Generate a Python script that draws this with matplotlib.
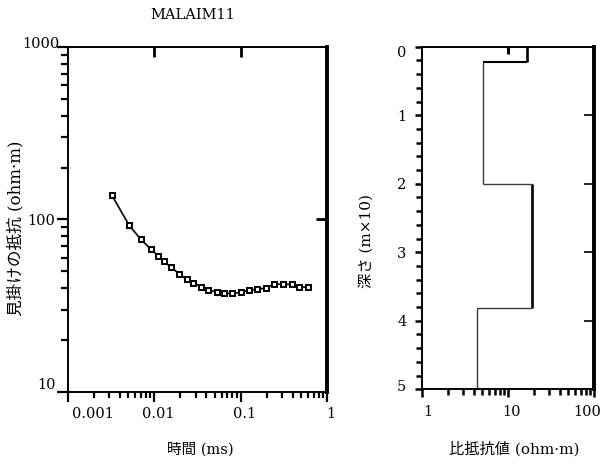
import matplotlib
matplotlib.use("Agg")
import matplotlib.pyplot as plt
import matplotlib.transforms as mtrans
from matplotlib.ticker import LogLocator, MultipleLocator, FixedLocator, NullFormatter, FixedFormatter

# ---------------- data ----------------
title = "MALAIM11"
time_ms = [0.00321, 0.00509, 0.00695, 0.00908, 0.01094, 0.01294, 0.01564, 0.0195,
           0.0237, 0.0283, 0.0348, 0.0423, 0.0528, 0.0647, 0.0802, 0.100,
           0.125, 0.156, 0.197, 0.244, 0.308, 0.391, 0.479, 0.600]
app_res = [138.7, 92.9, 76.8, 67.5, 61.7, 57.3, 52.8, 48.3,
           45.0, 43.0, 40.8, 39.0, 38.0, 37.3, 37.3, 37.8,
           38.9, 39.4, 40.1, 42.3, 42.1, 42.1, 40.8, 40.4]
left_xticks = [0.001, 0.01, 0.1, 1]
left_xticklabels = ["0.001", "0.01", "0.1", "1"]
left_yticks = [10, 100, 1000]
left_yticklabels = ["10", "100", "1000"]

layer_res = [16.9, 5.09, 19.3, 4.34]          # ohm-m
layer_bounds = [0.0, 0.23, 2.01, 3.82, 5.0]   # depth (m x 10)
right_xticks = [1, 10, 100]
right_xticklabels = ["1", "10", "100"]
right_yticks = [0, 1, 2, 3, 4, 5]
right_yticklabels = ["0", "1", "2", "3", "4", "5"]

xlabel_left = "時間 (ms)"
ylabel_left = "見掛けの抵抗 (ohm·m)"
xlabel_right = "比抵抗値 (ohm·m)"
ylabel_right = "深さ (m×10)"

FAM = ["DejaVu Serif", "Noto Sans CJK JP"]
plt.rcParams["font.family"] = FAM

W, H = 603, 465
fig = plt.figure(figsize=(W / 100, H / 100), dpi=100)

def px_off(dx, dy):
    return mtrans.ScaledTranslation(dx / 100, -dy / 100, fig.dpi_scale_trans)

# ---------------- left axes ----------------
axL = fig.add_axes([68 / W, 1 - 392 / H, (327 - 68) / W, (392 - 47) / H])
axL.set_xscale("log")
axL.set_yscale("log")
axL.set_xlim(0.001, 1)
axL.set_ylim(10, 1000)
axL.plot(time_ms, app_res, color="#111111", lw=1.3, marker="s", markersize=3.6,
         markerfacecolor="white", markeredgecolor="black", markeredgewidth=1.4)

axL.xaxis.set_major_locator(FixedLocator(left_xticks))
axL.xaxis.set_major_formatter(FixedFormatter(left_xticklabels))
axL.xaxis.set_minor_locator(LogLocator(base=10, subs=range(2, 10)))
axL.xaxis.set_minor_formatter(NullFormatter())
axL.yaxis.set_major_locator(FixedLocator(left_yticks))
axL.yaxis.set_major_formatter(FixedFormatter(left_yticklabels))
axL.yaxis.set_minor_locator(LogLocator(base=10, subs=range(2, 10)))
axL.yaxis.set_minor_formatter(NullFormatter())
axL.tick_params(axis="both", which="major", direction="out", length=7, width=1.6,
                labelsize=10.5, pad=4)
axL.tick_params(axis="both", which="minor", direction="out", length=4, width=1.6)
axL.tick_params(axis="y", which="major", length=8, pad=1)
axL.tick_params(axis="y", which="minor", length=5)

for s in ["left", "bottom", "top"]:
    axL.spines[s].set_linewidth(1.4)
axL.spines["right"].set_linewidth(2.8)

# inner ticks on top and right
axT = axL.secondary_xaxis("top")
axT.set_xticks([0.01, 0.1])
axT.xaxis.set_minor_locator(FixedLocator([]))
axT.tick_params(direction="in", length=7, width=2, labeltop=False)
axT.spines["top"].set_visible(False)
axR = axL.secondary_yaxis("right")
axR.set_yticks([100])
axR.yaxis.set_minor_locator(FixedLocator([]))
axR.tick_params(direction="in", length=8, width=2, labelright=False)
axR.spines["right"].set_visible(False)

fig.canvas.draw()
xl = axL.get_xticklabels()
xl[0].set_horizontalalignment("left")
xl[0].set_transform(xl[0].get_transform() + px_off(4, 0))
for lab in xl[1:]:
    lab.set_transform(lab.get_transform() + px_off(4, 0))
yl = axL.get_yticklabels()
yl[0].set_transform(yl[0].get_transform() + px_off(0, -9))
yl[2].set_transform(yl[2].get_transform() + px_off(4, -4))

# ---------------- right axes ----------------
axP = fig.add_axes([421.7 / W, 1 - 389.3 / H, (594 - 421.7) / W, (389.3 - 46.7) / H])
axP.set_xscale("log")
axP.set_xlim(1, 100)
axP.set_ylim(5, 0)

for i, r in enumerate(layer_res):
    thick = (i % 2 == 0)
    lw = 1.9 if thick else 1.0
    col = "black" if thick else "#3a3a3a"
    axP.plot([r, r], [layer_bounds[i], layer_bounds[i + 1]], color=col, lw=lw,
             solid_capstyle="butt")
    if i + 1 < len(layer_res):
        hlw = 1.5 if i == 0 else 1.0
        hcol = "black" if i == 0 else "#3a3a3a"
        axP.plot([r, layer_res[i + 1]], [layer_bounds[i + 1], layer_bounds[i + 1]],
                 color=hcol, lw=hlw, solid_capstyle="butt")

axP.xaxis.set_major_locator(FixedLocator(right_xticks))
axP.xaxis.set_major_formatter(FixedFormatter(right_xticklabels))
axP.xaxis.set_minor_locator(LogLocator(base=10, subs=range(2, 10)))
axP.xaxis.set_minor_formatter(NullFormatter())
axP.yaxis.set_major_locator(FixedLocator(right_yticks))
axP.yaxis.set_major_formatter(FixedFormatter(right_yticklabels))
axP.yaxis.set_minor_locator(MultipleLocator(0.2))
axP.tick_params(axis="both", which="major", direction="out", length=5, width=1.8,
                labelsize=10.5, pad=6)
axP.tick_params(axis="both", which="minor", direction="out", length=4, width=1.8)
axP.tick_params(axis="x", which="major", length=6, pad=5)
for s in ["left", "bottom", "top"]:
    axP.spines[s].set_linewidth(1.4)
axP.spines["right"].set_linewidth(2.8)

axPT = axP.secondary_xaxis("top")
axPT.set_xticks([10])
axPT.xaxis.set_minor_locator(FixedLocator([]))
axPT.tick_params(direction="in", length=5, width=2.2, labeltop=False)
axPT.spines["top"].set_visible(False)
axPR = axP.secondary_yaxis("right")
axPR.set_yticks([1, 2, 3, 4])
axPR.yaxis.set_minor_locator(FixedLocator([]))
axPR.tick_params(direction="in", length=7, width=1.2, labelright=False)
axPR.spines["right"].set_visible(False)

fig.canvas.draw()
xr = axP.get_xticklabels()
xr[0].set_transform(xr[0].get_transform() + px_off(6, 0))
xr[1].set_transform(xr[1].get_transform() + px_off(4, 0))
xr[2].set_transform(xr[2].get_transform() + px_off(-7, 0))
yr = axP.get_yticklabels()
yr[0].set_transform(yr[0].get_transform() + px_off(0, 5))
yr[-1].set_transform(yr[-1].get_transform() + px_off(0, -4))

# ---------------- texts ----------------
fig.text(193 / W, 1 - 15 / H, title, ha="center", va="center", fontsize=10.5,
         family=FAM)
fig.text(200 / W, 1 - 449 / H, xlabel_left, ha="center", va="center", fontsize=10.5,
         family=FAM)
fig.text(16 / W, 1 - 228 / H, ylabel_left, ha="center", va="center", fontsize=12,
         rotation=90, family=FAM)
fig.text(514 / W, 1 - 449 / H, xlabel_right, ha="center", va="center", fontsize=11,
         family=FAM)
fig.text(366 / W, 1 - 241 / H, ylabel_right, ha="center", va="center", fontsize=11,
         rotation=90, family=FAM)

fig.savefig("out.png", dpi=100)
